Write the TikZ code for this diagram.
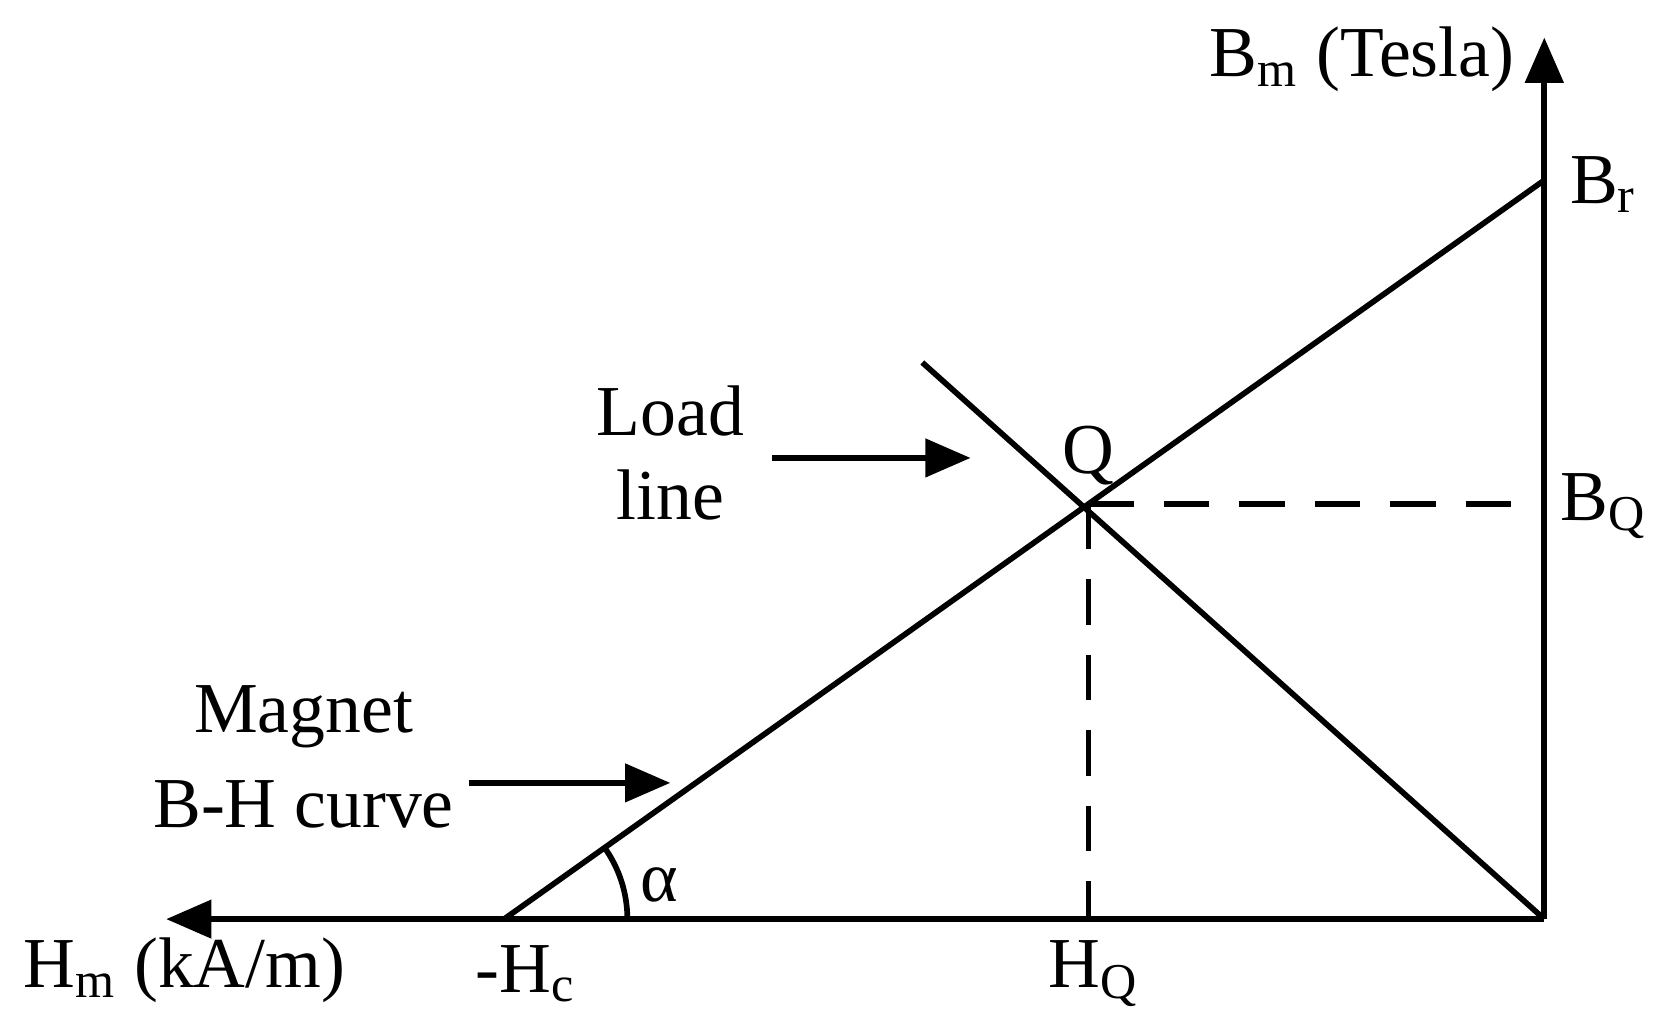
\documentclass[tikz,border=0pt]{standalone}
\usepackage{fontspec}
\setmainfont{Liberation Serif}
\usetikzlibrary{arrows.meta}
\begin{document}
\begin{tikzpicture}[x=0.01cm,y=-0.01cm,line width=1.5pt,
  lbl/.style={font=\fontsize{19}{23}\selectfont,inner sep=0pt},
  arr/.style={-{Triangle[length=12pt,width=10pt]}},
  dsh/.style={dash pattern=on 12pt off 8pt}]
\useasboundingbox (0,0) rectangle (1560,956);
\coordinate (O) at (1440,857);
\coordinate (Ytop) at (1440,35);
\coordinate (Xend) at (155,857);
\coordinate (Hc) at (470,857);
\coordinate (Br) at (1440,168);
\coordinate (Q) at (1015,470);
\coordinate (L1) at (860,338);
\coordinate (BQ) at (1440,470);
\coordinate (HQ) at (1015,857);
\draw[arr] (O) -- (Ytop);
\draw[arr] (O) -- (Xend);
\draw (Hc) -- (Br);
\draw (L1) -- (O);
\draw[dsh] (Q) -- (BQ);
\draw[dsh] (Q) -- (HQ);
\draw (585,857) arc (0:-36:115);
\coordinate (a1) at (720,427); \coordinate (a2) at (905,427);
\draw[arr] (a1) -- (a2);
\coordinate (m1) at (437,730); \coordinate (m2) at (625,730);
\draw[arr] (m1) -- (m2);
\node[lbl] (tb) at (1270,55) {B\textsubscript{m} (Tesla)};
\node[lbl] (tbr) at (1495,172) {B\textsubscript{r}};
\node[lbl] (tbq) at (1495,472) {B\textsubscript{Q}};
\node[lbl] (tq) at (1015,425) {Q};
\node[lbl] (tl1) at (625,383) {Load};
\node[lbl] (tl2) at (625,462) {line};
\node[lbl] (tm1) at (283,668) {Magnet};
\node[lbl] (tm2) at (283,750) {B-H curve};
\node[lbl] (ta) at (615,825) {α};
\node[lbl] (thm) at (172,905) {H\textsubscript{m} (kA/m)};
\node[lbl] (thc) at (490,908) {-H\textsubscript{c}};
\node[lbl] (thq) at (1020,908) {H\textsubscript{Q}};
\end{tikzpicture}
\end{document}
